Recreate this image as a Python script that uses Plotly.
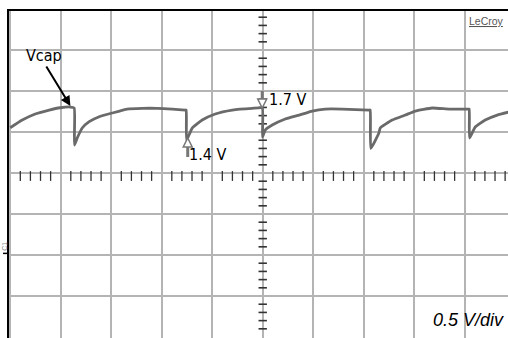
import numpy as np
import plotly.graph_objects as go

# ---- data (time in divisions, voltage in V; 0.5 V/div) ----
t_div = [0.0, 0.238, 0.495, 0.772, 0.990, 1.188, 1.267,
         1.272, 1.327, 1.426, 1.564, 1.762, 2.020, 2.317, 2.614, 2.911, 3.208, 3.465, 3.485,
         3.492, 3.604, 3.802, 4.059, 4.396, 4.792, 4.990,
         4.996, 5.050, 5.188, 5.446, 5.723, 5.980, 6.238, 6.574, 7.109, 7.129,
         7.140, 7.300, 7.327, 7.564, 7.822, 8.020, 8.356, 8.693, 9.069, 9.089,
         9.095, 9.208, 9.406, 9.644, 9.901]
v_cap = [1.552, 1.646, 1.720, 1.768, 1.796, 1.805, 1.793,
         1.341, 1.427, 1.549, 1.626, 1.687, 1.732, 1.780, 1.789, 1.789, 1.780, 1.768, 1.768,
         1.402, 1.549, 1.646, 1.720, 1.768, 1.789, 1.793,
         1.439, 1.524, 1.585, 1.659, 1.707, 1.756, 1.780, 1.780, 1.768, 1.768,
         1.300, 1.488, 1.549, 1.646, 1.707, 1.756, 1.793, 1.780, 1.780, 1.780,
         1.427, 1.561, 1.646, 1.707, 1.748]

cursor_low_t = 3.515
cursor_low_v = 1.427
cursor_high_t = 4.99
cursor_high_v = 1.793
labels = {"low": "1.4 V", "high": "1.7 V", "trace": "Vcap", "scale": "0.5 V/div"}

X_RANGE = [-0.024, 9.857]
Y_RANGE = [-1.012, 2.976]
GRID = "#b4b4b4"
TICKC = "#333333"
COND = "DejaVu Sans Condensed, Liberation Sans Narrow, Liberation Sans, Arial, sans-serif"

fig = go.Figure()

# centre-axis graticule ticks
xt = [k * 0.2 for k in range(1, 50) if k % 5 != 0]
fig.add_trace(go.Scatter(x=xt, y=[1.0 - 3.0 / 82] * len(xt), mode="markers",
                         marker=dict(symbol="line-ns", size=7, line=dict(width=1.3, color=TICKC)),
                         hoverinfo="skip", showlegend=False))
yt = [round(-1.0 + k * 0.1, 2) for k in range(0, 41) if k % 5 != 0]
fig.add_trace(go.Scatter(x=[5.0] * len(yt), y=yt, mode="markers",
                         marker=dict(symbol="line-ew", size=6, line=dict(width=1.6, color=TICKC)),
                         hoverinfo="skip", showlegend=False))

# waveform
fig.add_trace(go.Scatter(x=t_div, y=v_cap, mode="lines",
                         line=dict(color="#6a6a6a", width=2.8, shape="spline", smoothing=0.4),
                         hoverinfo="skip", showlegend=False))

# cursor stems
fig.add_trace(go.Scatter(x=[cursor_low_t, cursor_low_t], y=[1.317, 1.195], mode="lines",
                         line=dict(color="#777777", width=3), showlegend=False, hoverinfo="skip"))
fig.add_trace(go.Scatter(x=[cursor_high_t, cursor_high_t], y=[2.0, 1.89], mode="lines",
                         line=dict(color="#777777", width=3), showlegend=False, hoverinfo="skip"))
# cursor arrows
fig.add_trace(go.Scatter(x=[cursor_low_t], y=[cursor_low_v], mode="markers",
                         marker=dict(symbol="arrow-up", size=9, color="white",
                                     line=dict(color="#777777", width=1.5)),
                         showlegend=False, hoverinfo="skip"))
fig.add_trace(go.Scatter(x=[cursor_high_t], y=[cursor_high_v], mode="markers",
                         marker=dict(symbol="arrow-down", size=9, color="white",
                                     line=dict(color="#777777", width=1.5)),
                         showlegend=False, hoverinfo="skip"))

ann = []
ann.append(dict(x=0.660, y=2.433, text=labels["trace"], showarrow=False,
                font=dict(family=COND, size=16, color="black"), xanchor="center", yanchor="middle"))
ann.append(dict(x=1.192, y=1.817, ax=-25, ay=-41, text="", showarrow=True,
                arrowhead=2, arrowsize=1, arrowwidth=2, arrowcolor="black"))
ann.append(dict(x=5.08, y=1.902, text=labels["high"], showarrow=False,
                font=dict(family=COND, size=16, color="black"), xanchor="left", yanchor="middle"))
ann.append(dict(x=3.505, y=1.232, text=labels["low"], showarrow=False,
                font=dict(family=COND, size=16, color="black"), xanchor="left", yanchor="middle"))
ann.append(dict(x=9.826, y=-0.793, text="<i>" + labels["scale"] + "</i>", showarrow=False,
                font=dict(family="Liberation Sans, Arial, sans-serif", size=18, color="black"),
                xanchor="right", yanchor="middle"))
ann.append(dict(x=9.82, y=2.860, text="<u>LeCroy</u>", showarrow=False,
                font=dict(family="Liberation Sans, Arial, sans-serif", size=10.5, color="#555555"),
                xanchor="right", yanchor="middle"))
ann.append(dict(xref="paper", x=-0.008, y=0.1, text="C1", textangle=-90, showarrow=False,
                font=dict(family="Liberation Sans, Arial", size=7, color="#888888"),
                xanchor="center", yanchor="middle"))
for a in ann:
    a.setdefault("xref", "x")
    a.setdefault("yref", "y")

fig.update_layout(
    width=508, height=338,
    margin=dict(l=9, r=0, t=11, b=0),
    paper_bgcolor="white", plot_bgcolor="white",
    annotations=ann,
    shapes=[dict(type="line", xref="paper", yref="y", x0=-0.012, x1=-0.002, y0=0.02, y1=0.02,
                 line=dict(color="black", width=1.5))],
    xaxis=dict(range=X_RANGE, tick0=0, dtick=1, showgrid=True, gridcolor=GRID, gridwidth=1.5,
               zeroline=False, showticklabels=False, ticks="", side="top",
               showline=True, linecolor="black", linewidth=2),
    yaxis=dict(range=Y_RANGE, tick0=0, dtick=0.5, showgrid=True, gridcolor=GRID, gridwidth=1.5,
               zeroline=False, showticklabels=False, ticks="",
               showline=True, linecolor="black", linewidth=2),
)

fig.write_html("out.html")
